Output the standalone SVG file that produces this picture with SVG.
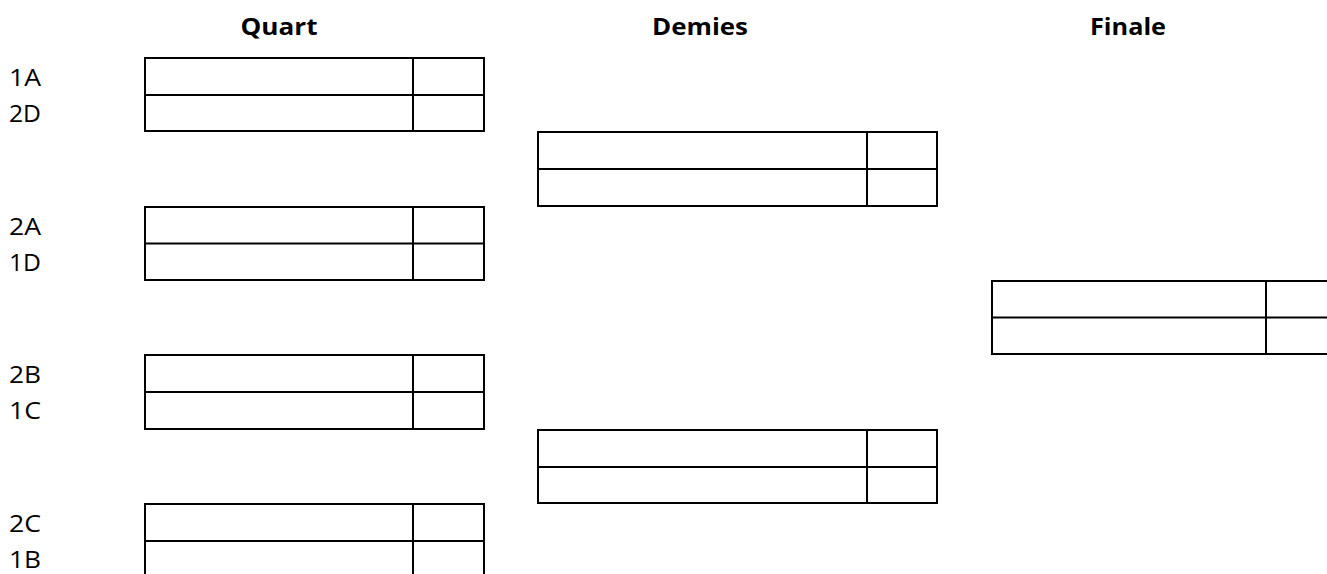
<svg xmlns="http://www.w3.org/2000/svg" width="1327" height="574" viewBox="0 0 1327 574">
  <style>
    .box { fill: #ffffff; stroke: #000000; stroke-width: 2; }
    .ln { stroke: #000000; stroke-width: 2; }
    .hdr { font-family: "Open Sans", "Liberation Sans", sans-serif; font-weight: bold; font-size: 23px; fill: #000000; text-anchor: middle; }
    .lbl { font-family: "Open Sans", "Liberation Sans", sans-serif; font-size: 24px; fill: #000000; }
  </style>
  <rect width="1327" height="574" fill="#ffffff"/>
  <g id="headers">
    <text class="hdr" x="279" y="35" textLength="77" lengthAdjust="spacingAndGlyphs">Quart</text>
    <text class="hdr" x="700" y="35" textLength="96" lengthAdjust="spacingAndGlyphs">Demies</text>
    <text class="hdr" x="1128" y="35" textLength="76" lengthAdjust="spacingAndGlyphs">Finale</text>
  </g>
  <g id="labels">
    <text class="lbl" x="9" y="86" textLength="32" lengthAdjust="spacingAndGlyphs">1A</text>
    <text class="lbl" x="9" y="122" textLength="32" lengthAdjust="spacingAndGlyphs">2D</text>
    <text class="lbl" x="9" y="235" textLength="32" lengthAdjust="spacingAndGlyphs">2A</text>
    <text class="lbl" x="9" y="271" textLength="32" lengthAdjust="spacingAndGlyphs">1D</text>
    <text class="lbl" x="9" y="383" textLength="32" lengthAdjust="spacingAndGlyphs">2B</text>
    <text class="lbl" x="9" y="419" textLength="32" lengthAdjust="spacingAndGlyphs">1C</text>
    <text class="lbl" x="9" y="532" textLength="32" lengthAdjust="spacingAndGlyphs">2C</text>
    <text class="lbl" x="9" y="568" textLength="32" lengthAdjust="spacingAndGlyphs">1B</text>
  </g>
  <g id="qf1">
    <rect class="box" x="145" y="58" width="339" height="73"/>
    <line class="ln" x1="145" y1="95" x2="484" y2="95"/>
    <line class="ln" x1="413" y1="58" x2="413" y2="131"/>
  </g>
  <g id="qf2">
    <rect class="box" x="145" y="207" width="339" height="73"/>
    <line class="ln" x1="145" y1="243.5" x2="484" y2="243.5"/>
    <line class="ln" x1="413" y1="207" x2="413" y2="280"/>
  </g>
  <g id="qf3">
    <rect class="box" x="145" y="355" width="339" height="74"/>
    <line class="ln" x1="145" y1="392" x2="484" y2="392"/>
    <line class="ln" x1="413" y1="355" x2="413" y2="429"/>
  </g>
  <g id="qf4">
    <rect class="box" x="145" y="504" width="339" height="74"/>
    <line class="ln" x1="145" y1="541" x2="484" y2="541"/>
    <line class="ln" x1="413" y1="504" x2="413" y2="578"/>
  </g>
  <g id="sf1">
    <rect class="box" x="538" y="132" width="399" height="74"/>
    <line class="ln" x1="538" y1="169" x2="937" y2="169"/>
    <line class="ln" x1="867" y1="132" x2="867" y2="206"/>
  </g>
  <g id="sf2">
    <rect class="box" x="538" y="430" width="399" height="73"/>
    <line class="ln" x1="538" y1="467" x2="937" y2="467"/>
    <line class="ln" x1="867" y1="430" x2="867" y2="503"/>
  </g>
  <g id="final">
    <rect class="box" x="992" y="281" width="360" height="73"/>
    <line class="ln" x1="992" y1="317.5" x2="1352" y2="317.5"/>
    <line class="ln" x1="1266" y1="281" x2="1266" y2="354"/>
  </g>
  <g id="connectors"/>
</svg>
